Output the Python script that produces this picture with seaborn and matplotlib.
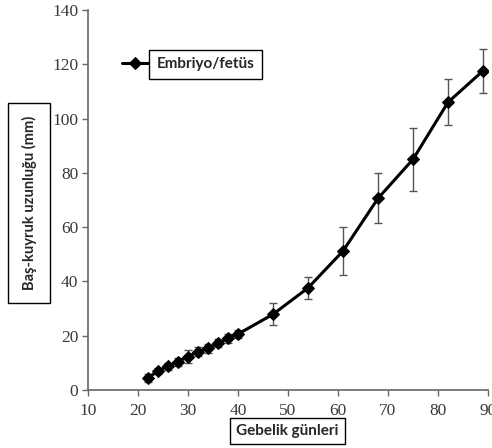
import matplotlib
matplotlib.use("Agg")
import matplotlib.pyplot as plt
from matplotlib.font_manager import FontProperties
import seaborn as sns
import pandas as pd

days = [22, 24, 26, 28, 30, 32, 34, 36, 38, 40, 47, 54, 61, 68, 75, 82, 89]
crl_mm = [4.5, 7.0, 8.8, 10.4, 12.3, 14.1, 15.3, 17.2, 19.0, 20.6, 27.9, 37.6, 51.2, 70.6, 85.0, 106.0, 117.6]
crl_sd = [1.5, 1.2, 1.3, 1.5, 2.5, 1.6, 1.5, 1.5, 1.5, 1.5, 4.0, 4.0, 9.0, 9.2, 11.5, 8.5, 8.2]
series_label = "Embriyo/fetüs"
x_label = "Gebelik günleri"
y_label = "Baş-kuyruk uzunluğu (mm)"
x_ticks = [10, 20, 30, 40, 50, 60, 70, 80, 90]
y_ticks = [0, 20, 40, 60, 80, 100, 120, 140]

df = pd.DataFrame({"day": days, "crl": crl_mm, "sd": crl_sd})

sns.set_style("white")
plt.rcParams["font.family"] = ["DejaVu Sans"]

fig = plt.figure(figsize=(4.92, 4.48), dpi=100)
ax = fig.add_axes([88 / 492, 58 / 448, 400 / 492, 380 / 448])

ax.errorbar(df["day"], df["crl"], yerr=df["sd"], fmt="none", ecolor="#555555",
            elinewidth=1.0, capsize=3, capthick=1.0, zorder=2)
sns.lineplot(data=df, x="day", y="crl", ax=ax, color="black", linewidth=2.2,
             marker="D", markersize=6.5, markeredgecolor="black",
             label=series_label, zorder=3)

ax.set_xlim(10, 90)
ax.set_ylim(0, 140)
ax.set_xticks(x_ticks)
ax.set_yticks(y_ticks)
ax.set_xticklabels([str(v) for v in x_ticks])
ax.set_yticklabels([str(v) for v in y_ticks])
ax.tick_params(axis="both", direction="out", length=4, width=1, color="#666666",
               left=True, bottom=True, pad=3)
ax.tick_params(axis="x", pad=5)
for side in ["top", "right"]:
    ax.spines[side].set_visible(False)
for side in ["left", "bottom"]:
    ax.spines[side].set_color("#666666")
    ax.spines[side].set_linewidth(1.2)
ax.set_xlabel("")
ax.set_ylabel("")

leg = ax.legend(loc="upper left", bbox_to_anchor=(0.07, 0.89), frameon=False,
                handlelength=1.9, handletextpad=0.6, borderaxespad=0)
for t in leg.get_texts():
    t.set_fontproperties(FontProperties(family="Lato", weight="bold", size=11))
    t.set_bbox(dict(facecolor="white", edgecolor="black", linewidth=1.0,
                    boxstyle="square,pad=0.5"))

fig.text(29 / 492, 1 - 203 / 448, y_label, rotation=90, ha="center", va="center",
         fontproperties=FontProperties(family="Lato", weight="bold", size=10.5),
         bbox=dict(facecolor="white", edgecolor="black", linewidth=1.0,
                   boxstyle="square,pad=0.9"))
fig.text(287.5 / 492, 1 - 431 / 448, x_label, ha="center", va="center",
         fontproperties=FontProperties(family="Lato", weight="bold", size=11),
         bbox=dict(facecolor="white", edgecolor="black", linewidth=1.0,
                   boxstyle="square,pad=0.4"))

serif_fp = FontProperties(family="Liberation Serif", size=12.5)
for lab in ax.get_xticklabels() + ax.get_yticklabels():
    lab.set_fontproperties(serif_fp)
    lab.set_color("#3a3a3a")

fig.savefig("out.png", dpi=100)
